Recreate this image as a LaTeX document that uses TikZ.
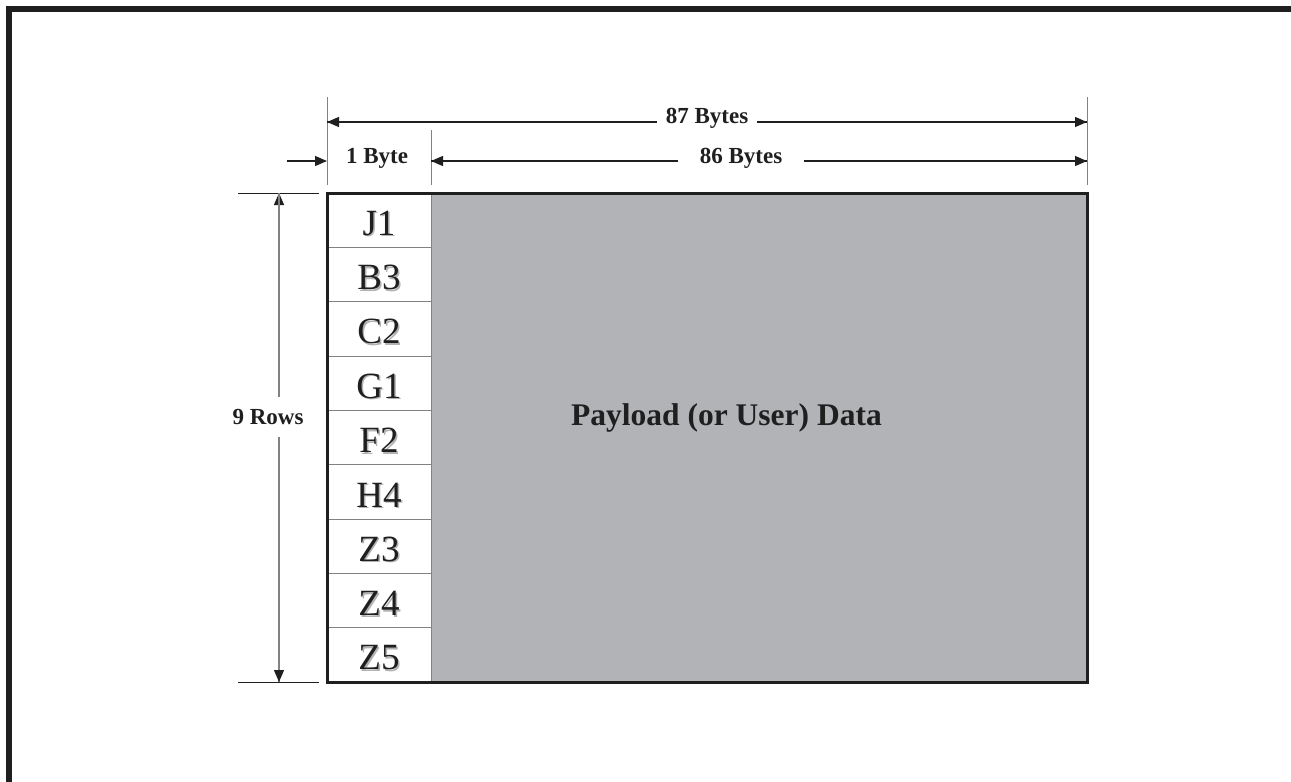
\documentclass[tikz,border=0pt]{standalone}
\usepackage{fontspec}
\setmainfont{Liberation Serif}
\usetikzlibrary{arrows.meta}
\definecolor{payload}{RGB}{178,179,183}
\definecolor{ink}{RGB}{31,31,31}
\definecolor{extgray}{RGB}{130,130,130}
\tikzset{
  dim/.style={draw=ink, line width=1.2pt, -{Triangle[length=12pt,width=10pt,color=ink]}},
  extline/.style={draw=extgray, line width=1pt},
  lbl/.style={font=\fontsize{23}{27}\selectfont\bfseries, text=ink, inner sep=0pt},
  gaplbl/.style={lbl, fill=white},
  cell/.style={font=\fontsize{37}{42}\selectfont, text=ink, inner sep=0pt},
  cellshadow/.style={font=\fontsize{37}{42}\selectfont, text=black!30, inner sep=0pt},
  rowline/.style={draw=extgray, line width=1pt},
}
\begin{document}
\begin{tikzpicture}[x=1pt,y=-1pt]
\useasboundingbox (0,0) rectangle (1291,782);
% outer frame (only top and left edges visible)
\draw[ink, line width=6pt] (9,800) -- (9,9) -- (1300,9);
% main box corners
\coordinate (tl) at (327,193);
\coordinate (br) at (1087,682);
\coordinate (ctop) at (431,193);
\coordinate (cbot) at (431,682);
\fill[payload] (ctop) rectangle (br);
% row lines
\foreach \i in {1,...,8}{
  \draw[rowline] (327,{193+\i*489/9}) -- (431,{193+\i*489/9});
}
\draw[rowline] (ctop) -- (cbot);
\draw[ink, line width=3pt] (tl) rectangle (br);
% cell labels
\foreach \t [count=\i] in {J1,B3,C2,G1,F2,H4,Z3,Z4,Z5}{
  \node[cellshadow] at (380.5,{193+(\i-0.5)*489/9+4.5}) {\t};
  \node[cell] (c\i) at (379,{193+(\i-0.5)*489/9+3}) {\t};
}
\node[font=\fontsize{31.5}{36}\selectfont\bfseries, text=ink] (payload) at (726.5,418) {Payload (or User) Data};
% extension lines
\coordinate (e1t) at (327,97);  \coordinate (e1b) at (327,185);
\coordinate (e2t) at (431,130); \coordinate (e2b) at (431,185);
\coordinate (e3t) at (1087,97); \coordinate (e3b) at (1087,185);
\draw[extline] (e1t) -- (e1b);
\draw[extline] (e2t) -- (e2b);
\draw[extline] (e3t) -- (e3b);
% 87 bytes
\coordinate (a87l) at (327,122);
\coordinate (a87r) at (1087,122);
\draw[dim] (a87r) -- (a87l);
\draw[dim] (a87l) -- (a87r);
\node[gaplbl, inner xsep=9pt, inner ysep=4pt] (t87) at (707,118.5) {87 Bytes};
% 1 byte
\coordinate (a1s) at (287,161);
\coordinate (a1e) at (327,161);
\draw[dim] (a1s) -- (a1e);
\node[lbl] (t1) at (377,158.5) {1 Byte};
% 86 bytes
\coordinate (a86l) at (431,161);
\coordinate (a86r) at (1087,161);
\draw[dim] (a86r) -- (a86l);
\draw[dim] (a86l) -- (a86r);
\node[gaplbl, inner xsep=22pt, inner ysep=4pt] (t86) at (741,158.5) {86 Bytes};
% 9 rows
\coordinate (h1l) at (238,193); \coordinate (h1r) at (319,193);
\coordinate (h2l) at (238,682); \coordinate (h2r) at (319,682);
\draw[ink, line width=1pt] (h1l) -- (h1r);
\draw[ink, line width=1pt] (h2l) -- (h2r);
\coordinate (vt) at (279,193);
\coordinate (vb) at (279,682);
\draw[dim, draw=extgray] (vb) -- (vt);
\draw[dim, draw=extgray] (vt) -- (vb);
\node[gaplbl, inner xsep=3pt, inner ysep=12pt] (t9) at (268,417) {9 Rows};
\end{tikzpicture}
\end{document}
